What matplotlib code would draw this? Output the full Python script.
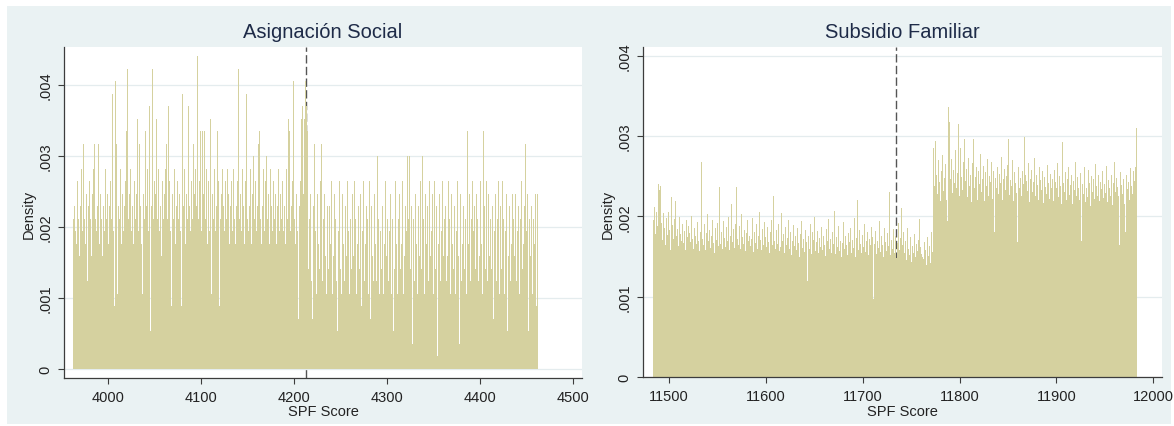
import numpy as np
import matplotlib
matplotlib.use("Agg")
import matplotlib.pyplot as plt
from matplotlib.patches import Rectangle

plt.rcParams['font.family'] = ['Liberation Sans', 'DejaVu Sans']

# ---------------------------------------------------------------
# Asignación Social: observations per one-point SPF score bin
# ---------------------------------------------------------------
as_first_bin = 3962
as_counts = [
    12, 13, 11, 14, 10, 15, 12, 9, 13, 16, 11, 18, 12, 10, 14, 7, 13, 11, 15, 12, 9, 14, 16, 18, 12,
    11, 13, 18, 10, 14, 12, 15, 9, 13, 11, 16, 12, 14, 10, 13, 15, 12, 22, 11, 5, 23, 14, 18, 6, 13,
    12, 16, 10, 14, 11, 13, 15, 19, 24, 12, 9, 14, 16, 11, 13, 10, 15, 12, 14, 20, 11, 18, 13, 10, 15,
    6, 14, 12, 19, 13, 16, 11, 21, 3, 13, 24, 12, 15, 10, 14, 20, 12, 16, 11, 13, 9, 15, 12, 14, 16,
    18, 12, 21, 13, 15, 11, 5, 14, 12, 16, 10, 13, 15, 12, 14, 11, 5, 20, 22, 13, 16, 10, 14, 12, 21,
    13, 11, 15, 12, 18, 14, 10, 16, 13, 25, 12, 15, 19, 11, 19, 14, 19, 12, 16, 10, 13, 15, 11, 20, 6,
    14, 12, 16, 11, 13, 19, 15, 5, 12, 14, 10, 16, 13, 11, 15, 12, 16, 14, 10, 13, 15, 11, 16, 12, 14,
    10, 13, 15, 24, 12, 14, 11, 16, 13, 10, 15, 22, 12, 14, 11, 13, 16, 10, 14, 17, 12, 15, 11, 13, 18,
    19, 12, 14, 10, 13, 16, 11, 15, 17, 12, 14, 10, 16, 13, 11, 15, 12, 22, 14, 10, 13, 16, 11, 14, 12,
    15, 11, 13, 10, 16, 12, 14, 20, 19, 11, 13, 15, 23, 12, 10, 14, 11, 4, 13, 15, 12, 20, 21, 14, 20,
    23, 21, 19, 8, 12, 14, 7, 4, 13, 9, 18, 11, 6, 14, 10, 8, 15, 18, 7, 12, 14, 9, 6, 13, 15,
    8, 13, 10, 15, 6, 9, 14, 12, 7, 3, 11, 15, 8, 13, 6, 14, 10, 7, 13, 9, 15, 11, 6, 12, 8,
    14, 9, 7, 15, 12, 6, 10, 13, 8, 14, 5, 11, 15, 7, 10, 13, 8, 12, 6, 15, 4, 13, 9, 7, 14,
    10, 7, 17, 12, 6, 11, 14, 8, 13, 6, 10, 15, 9, 12, 7, 11, 14, 6, 12, 3, 13, 8, 15, 10, 6,
    12, 14, 8, 10, 15, 6, 9, 13, 11, 7, 17, 12, 17, 8, 13, 2, 12, 7, 14, 10, 6, 13, 9, 11, 15,
    8, 17, 12, 6, 14, 10, 13, 7, 15, 9, 11, 14, 6, 12, 15, 8, 13, 1, 10, 14, 7, 11, 15, 9, 12,
    13, 7, 11, 9, 15, 12, 6, 14, 10, 8, 13, 6, 11, 15, 9, 2, 12, 14, 7, 10, 13, 8, 12, 6, 19,
    10, 14, 7, 12, 15, 6, 11, 13, 8, 14, 12, 7, 9, 15, 10, 6, 19, 13, 8, 15, 11, 7, 14, 9, 12,
    8, 13, 4, 11, 14, 7, 12, 15, 6, 10, 13, 8, 15, 12, 6, 11, 14, 3, 9, 13, 7, 10, 14, 1, 12,
    9, 14, 7, 11, 13, 6, 12, 15, 8, 10, 13, 18, 7, 11, 14, 3, 12, 9, 13, 6, 12, 10, 14, 5, 14,
]
as_n_obs = 5680
as_cutoff = 4213
as_xticks = [4000, 4100, 4200, 4300, 4400, 4500]

# ---------------------------------------------------------------
# Subsidio Familiar: density per one-point bin, in units of 1e-5
# ---------------------------------------------------------------
sf_first_bin = 11483
sf_density_e5 = [
    196, 212, 178, 205, 188, 236, 240, 233, 238, 192, 171, 204, 186, 165, 198, 177, 206, 183, 158, 224, 189, 172, 197, 219, 176,
    184, 163, 199, 178, 170, 191, 167, 182, 158, 195, 174, 188, 162, 179, 168, 201, 172, 160, 185, 176, 166, 193, 170, 157, 181,
    268, 172, 164, 190, 158, 179, 203, 169, 183, 161, 175, 196, 167, 154, 186, 171, 192, 163, 178, 237, 166, 181, 159, 194, 173,
    162, 187, 170, 199, 158, 176, 215, 168, 184, 161, 190, 237, 172, 165, 188, 159, 203, 174, 166, 183, 157, 179, 195, 169, 176,
    185, 163, 172, 198, 156, 181, 167, 190, 160, 176, 206, 171, 158, 184, 165, 193, 174, 162, 187, 168, 155, 180, 196, 164, 225,
    170, 159, 183, 166, 191, 157, 175, 162, 204, 169, 178, 154, 187, 165, 173, 196, 160, 181, 152, 170, 189, 163, 176, 158, 185,
    167, 150, 178, 194, 161, 172, 156, 183, 168, 120, 175, 159, 190, 164, 153, 180, 171, 199, 157, 168, 182, 154, 173, 162, 187,
    158, 176, 165, 151, 184, 169, 197, 160, 172, 155, 180, 166, 207, 153, 174, 162, 188, 157, 170, 181, 150, 167, 193, 159, 176,
    164, 152, 179, 168, 186, 155, 171, 161, 198, 150, 173, 220, 158, 183, 166, 154, 177, 162, 191, 156, 169, 180, 152, 172, 165,
    187, 158, 174, 97, 166, 182, 153, 170, 161, 194, 156, 175, 164, 150, 185, 168, 157, 179, 163, 231, 152, 171, 160, 184, 155,
    176, 148, 167, 192, 158, 173, 210, 151, 165, 180, 154, 169, 146, 185, 160, 152, 174, 143, 163, 155, 178, 149, 166, 157, 171,
    197, 162, 153, 150, 147, 168, 158, 140, 174, 151, 163, 142, 180, 156,
    262, 285, 238, 294, 251, 228, 270, 243, 219, 256, 277, 232, 248, 265, 221, 194, 336, 318, 247, 272, 229, 258, 241, 283, 236,
    254, 315, 226, 285, 249, 233, 268, 212, 296, 244, 259, 224, 273, 238, 252, 218, 266, 296, 235, 249, 262, 221, 257, 240, 278,
    230, 247, 263, 219, 255, 238, 271, 226, 250, 243, 268, 222, 256, 327, 180, 248, 235, 261, 228, 253, 242, 274, 220, 246, 259,
    233, 250, 264, 296, 227, 245, 238, 270, 219, 255, 241, 229, 168, 262, 236, 248, 225, 257, 240, 299, 223, 251, 244, 232, 266,
    218, 247, 258, 230, 243, 273, 226, 252, 239, 221, 261, 245, 233, 256, 217, 249, 237, 228, 264, 241, 222, 253, 235, 247, 219,
    258, 229, 243, 236, 267, 224, 250, 238, 215, 293, 242, 231, 255, 220, 246, 262, 227, 239, 251, 216, 244, 233, 268, 225, 249,
    236, 221, 254, 169, 240, 228, 262, 218, 247, 235, 224, 258, 241, 213, 250, 230, 246, 222, 265, 238, 226, 252, 219, 243, 234,
    257, 223, 240, 229, 263, 218, 245, 236, 226, 251, 214, 242, 268, 231, 220, 248, 237, 225, 165, 255, 239, 228, 247, 216, 180,
    252, 234, 243, 221, 260, 238, 228, 256, 244, 262, 310,
]
sf_cutoff = 11734
sf_xticks = [11500, 11600, 11700, 11800, 11900, 12000]

yticks = [0, 0.001, 0.002, 0.003, 0.004]
ytick_labels = ['0', '.001', '.002', '.003', '.004']

titles = ['Asignación Social', 'Subsidio Familiar']
xlabel = 'SPF Score'
ylabel = 'Density'

# ---------------------------------------------------------------
# Styling
# ---------------------------------------------------------------
W, H = 1174, 427
BAR = '#d5d19f'
GRAPH_BG = '#eaf2f3'
GRID = '#e4ecee'
AXIS = '#3c3c3c'
TITLE_C = '#1e2b48'
TEXT_C = '#222222'

fig = plt.figure(figsize=(W / 100, H / 100), dpi=100, facecolor='white')
fig.patches.append(Rectangle((7 / W, 2 / H), (1171 - 7) / W, (425 - 7) / H,
                             transform=fig.transFigure, facecolor=GRAPH_BG,
                             edgecolor='none', zorder=-10))


def px_axes(x0, y_top, x1, y_bot):
    return fig.add_axes([x0 / W, 1 - y_bot / H, (x1 - x0) / W, (y_bot - y_top) / H])


def style(ax, xticks):
    ax.set_facecolor('white')
    for s in ('top', 'right'):
        ax.spines[s].set_visible(False)
    for s in ('left', 'bottom'):
        ax.spines[s].set_color(AXIS)
        ax.spines[s].set_linewidth(0.9)
    ax.set_xticks(xticks)
    ax.set_xticklabels([str(t) for t in xticks])
    ax.set_yticks(yticks)
    ax.set_yticklabels(ytick_labels, rotation=90, va='center')
    ax.tick_params(axis='both', direction='out', length=4.5, width=0.8,
                   color=AXIS, labelcolor=TEXT_C, labelsize=10.5)
    ax.tick_params(axis='x', pad=4.5)
    ax.tick_params(axis='y', pad=4)
    ax.set_axisbelow(True)
    ax.yaxis.grid(True, color=GRID, linewidth=0.9)
    ax.xaxis.grid(False)


# Left panel
ax1 = px_axes(64, 48, 582, 379)
as_counts_arr = np.array(as_counts, dtype=float)
as_edges = as_first_bin + np.arange(len(as_counts) + 1)
as_density = as_counts_arr / (as_n_obs * 1.0)
ax1.axvline(as_cutoff, color='#555555', linewidth=1.0,
            linestyle=(0, (6, 2.4)), zorder=1)
ax1.bar(as_edges[:-1], as_density, width=1.0, align='edge', color=BAR,
        linewidth=0, zorder=2)
ax1.set_xlim(3952.6, 4509.7)
ax1.set_ylim(-0.000127, 0.004535)
style(ax1, as_xticks)

# Right panel
ax2 = px_axes(643, 48, 1162, 378)
sf_density = np.array(sf_density_e5, dtype=float) * 1e-5
sf_edges = sf_first_bin + np.arange(len(sf_density) + 1)
ax2.axvline(sf_cutoff, color='#555555', linewidth=1.0,
            linestyle=(0, (6, 2.4)), zorder=1)
ax2.bar(sf_edges[:-1], sf_density, width=1.0, align='edge', color=BAR,
        linewidth=0, zorder=2)
ax2.set_xlim(11473, 12009)
ax2.set_ylim(0, 0.00411)
style(ax2, sf_xticks)

# Titles and axis titles
for cx, cy_label, t in ((323, 29, titles[0]), (902.5, 608, titles[1])):
    fig.text(cx / W, 1 - 33 / H, t, ha='center', va='center',
             fontsize=14.5, color=TITLE_C)
    fig.text(cx / W, 1 - 412 / H, xlabel, ha='center', va='center',
             fontsize=10.5, color=TEXT_C)
    fig.text(cy_label / W, 1 - 214 / H, ylabel, ha='center', va='center',
             rotation=90, fontsize=10.5, color=TEXT_C)

fig.savefig('out.png', dpi=100, facecolor=fig.get_facecolor())
